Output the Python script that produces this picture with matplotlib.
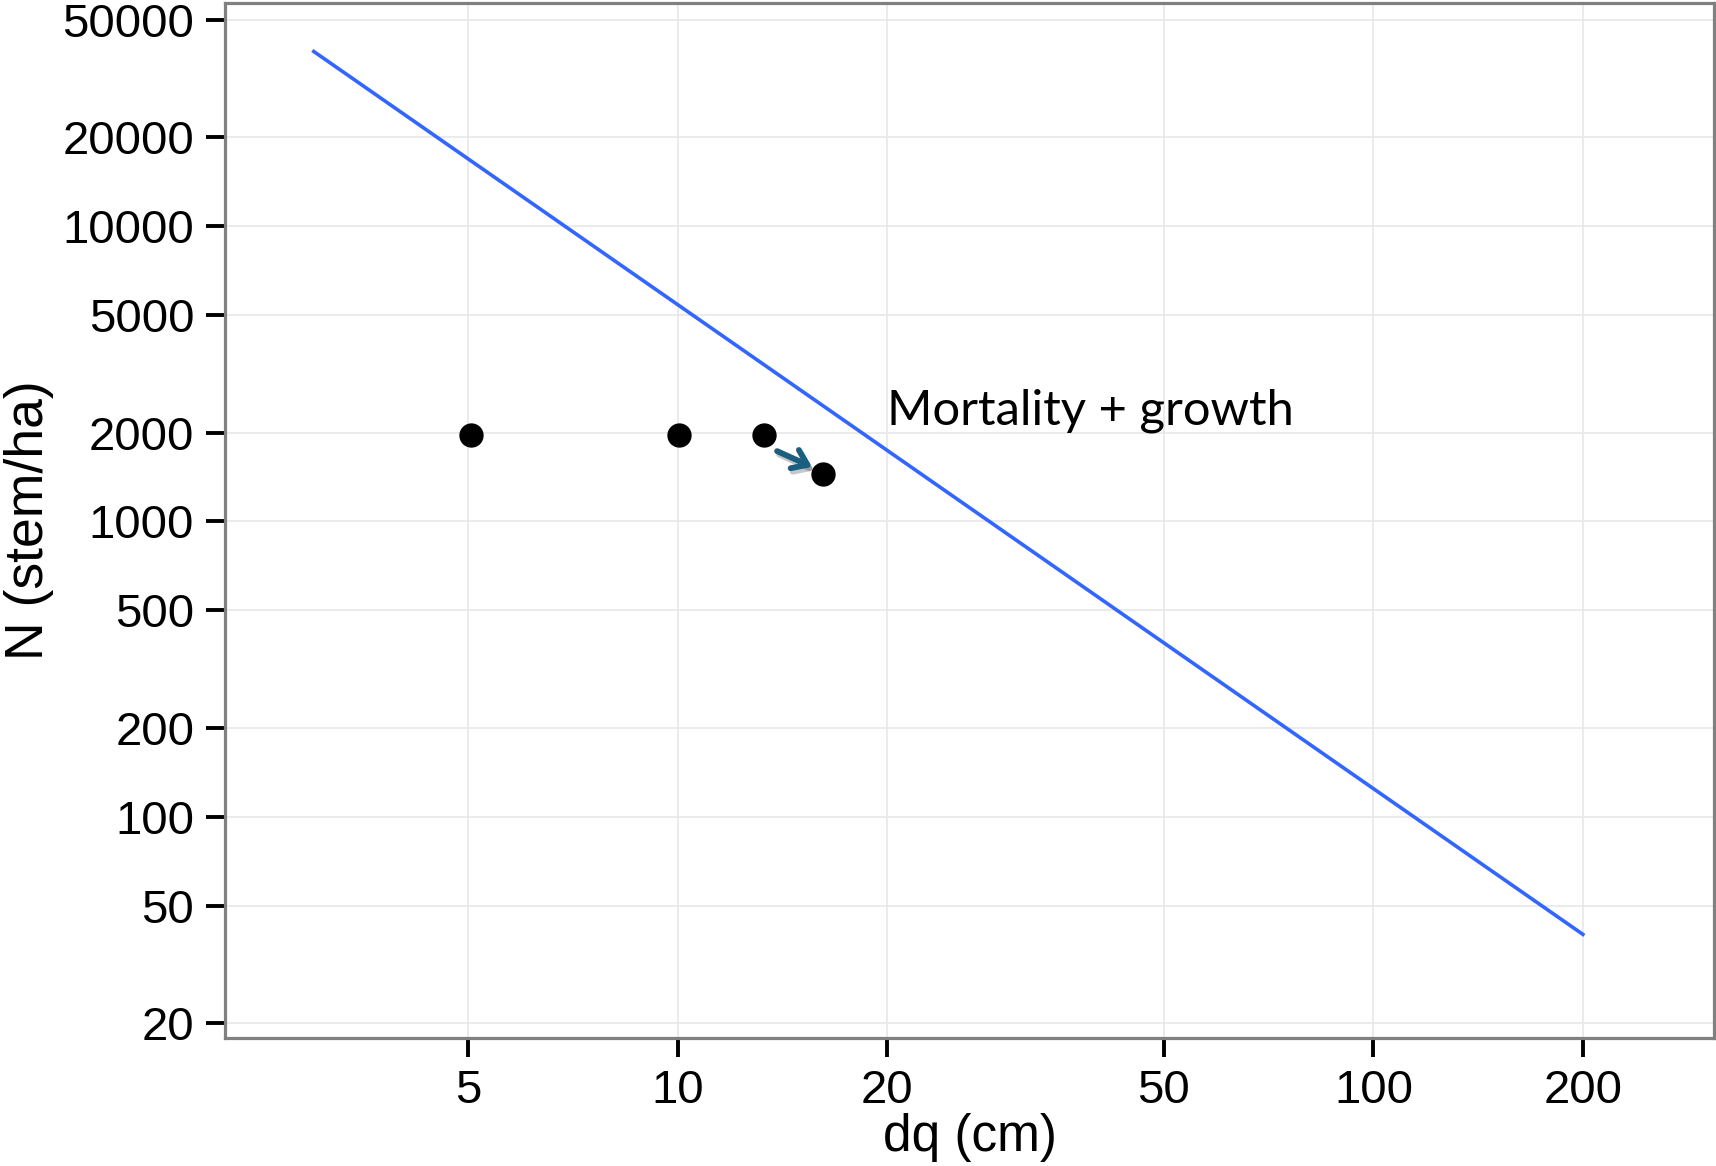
"""
Stand density diagram: N (stem/ha) against quadratic mean diameter on log axes,
with the self-thinning boundary line and a short stand trajectory.
"""

import matplotlib

matplotlib.use("Agg")

import matplotlib.patheffects as pe
import matplotlib.pyplot as plt

# self-thinning boundary (end points of the straight line on log-log axes)
line_dq = [3.0, 200.0]
line_n = [39000.0, 40.0]

# stand trajectory
stand_dq = [5.05, 10.05, 13.3, 16.2]
stand_n = [1960.0, 1960.0, 1960.0, 1450.0]

# arrow between the last two stand states
arrow_from = (13.9, 1730.0)
arrow_to = (15.6, 1530.0)

label_text = "Mortality + growth"
label_pos = (20.0, 2130.0)

x_ticks = [5, 10, 20, 50, 100, 200]
y_ticks = [20, 50, 100, 200, 500, 1000, 2000, 5000, 10000, 20000, 50000]


def main() -> None:
    plt.rcParams["font.family"] = ["Liberation Sans", "DejaVu Sans"]

    fig = plt.figure(figsize=(17.16, 11.66), dpi=100)
    ax = fig.add_axes([0.1314, 0.1102, 0.8674, 0.8870])

    ax.set_xscale("log")
    ax.set_yscale("log")
    ax.set_xlim(2.24, 308.6)
    ax.set_ylim(17.9, 56800)

    ax.set_xticks(x_ticks)
    ax.set_xticklabels([str(v) for v in x_ticks])
    ax.set_yticks(y_ticks)
    ax.set_yticklabels([str(v) for v in y_ticks])
    ax.minorticks_off()

    ax.grid(True, which="major", color="#e6e6e6", linewidth=1.1)
    ax.set_axisbelow(True)

    for spine in ax.spines.values():
        spine.set_color("#808080")
        spine.set_linewidth(2.3)

    ax.tick_params(axis="both", which="major", length=13.5, width=2.8,
                   color="black", labelsize=34, pad=9)

    ax.plot(line_dq, line_n, color="#3366FF", linewidth=2.6)
    ax.plot(stand_dq, stand_n, linestyle="none", marker="o",
            markersize=16.5, color="black")

    ann = ax.annotate("", xy=arrow_to, xytext=arrow_from,
                      arrowprops=dict(arrowstyle="->,head_length=0.5,head_width=0.36",
                                      mutation_scale=20, color="#1a5e80",
                                      linewidth=4.2, shrinkA=0, shrinkB=0))
    ann.arrow_patch.set_path_effects([
        pe.SimpleLineShadow(offset=(1.5, -2.5), shadow_color="black", alpha=0.22),
        pe.Normal(),
    ])

    ax.text(label_pos[0], label_pos[1], label_text, fontsize=35.3,
            family=["Lato", "DejaVu Sans"], ha="left", va="baseline")

    ax.set_xlabel("dq (cm)", fontsize=37, labelpad=0)
    ax.set_ylabel("N (stem/ha)", fontsize=38.5, labelpad=6)

    fig.savefig("out.png", dpi=100)


if __name__ == "__main__":
    main()
